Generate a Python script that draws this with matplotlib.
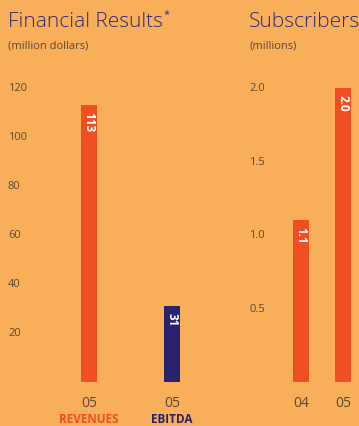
import matplotlib
matplotlib.use("Agg")
import matplotlib.pyplot as plt
from matplotlib import transforms

plt.rcParams['font.family'] = ['Open Sans', 'DejaVu Sans']

BG = "#F9AE59"
ORANGE = "#F04E23"
NAVY = "#27236F"
INK = "#5A4837"
TITLE = "#2E2A7A"

# financial results, million dollars
fin_labels = ["REVENUES", "EBITDA"]
fin_years = ["05", "05"]
fin_values = [113, 31]
fin_colors = [ORANGE, NAVY]
fin_ticks = [20, 40, 60, 80, 100, 120]

# subscribers, millions
sub_years = ["04", "05"]
sub_values = [1.1, 2.0]
sub_ticks = [0.5, 1.0, 1.5, 2.0]

W, H = 359, 427
fig = plt.figure(figsize=(W / 100, H / 100), dpi=100, facecolor=BG)


def px_axes(x0, x1, y_base, y_top):
    return fig.add_axes([x0 / W, (H - y_base) / H, (x1 - x0) / W, (y_base - y_top) / H])


def clean(ax):
    ax.set_facecolor("none")
    for s in ax.spines.values():
        s.set_visible(False)
    ax.set_xticks([])
    ax.set_yticks([])


# left panel
ax1 = px_axes(8, 235, 383, 383 - 130 * 2.45)
clean(ax1)
ax1.set_ylim(0, 130)
ax1.set_xlim(-(89 - 8) / 83, (235 - 89) / 83)
pos = list(range(len(fin_values)))
ax1.bar(pos, fin_values, width=16 / 83, color=fin_colors)
for p, v in zip(pos, fin_values):
    ax1.annotate(str(v), (p, v), xytext=(0, -4), textcoords="offset points",
                 rotation=-90, ha="center", va="top", color="white",
                 fontsize=8.5, fontweight="bold")
tr1 = transforms.blended_transform_factory(fig.transFigure, ax1.transData)
for t in fin_ticks:
    ax1.text(8 / W, t, str(t), transform=tr1, ha="left", va="center",
             fontsize=8, color=INK)
trx1 = transforms.blended_transform_factory(ax1.transData, fig.transFigure)
for p, yr, lab, c in zip(pos, fin_years, fin_labels, fin_colors):
    ax1.text(p, 1 - 404 / H, yr, transform=trx1, ha="center", va="center",
             fontsize=10, color=INK)
    ax1.text(p, 1 - 426 / H, lab, transform=trx1, ha="center", va="bottom",
             fontsize=8.5, fontweight="bold", color=c)

# right panel
ax2 = px_axes(249, 359, 383, 383 - 2.2 * 147)
clean(ax2)
ax2.set_ylim(0, 2.2)
ax2.set_xlim(-(301 - 249) / 42, (359 - 301) / 42)
pos2 = list(range(len(sub_values)))
ax2.bar(pos2, sub_values, width=16 / 42, color=ORANGE)
for p, v in zip(pos2, sub_values):
    ax2.annotate(f"{v:.1f}", (p, v), xytext=(0, -4), textcoords="offset points",
                 rotation=-90, ha="center", va="top", color="white",
                 fontsize=8.5, fontweight="bold")
tr2 = transforms.blended_transform_factory(fig.transFigure, ax2.transData)
for t in sub_ticks:
    ax2.text(249 / W, t, f"{t:.1f}", transform=tr2, ha="left", va="center",
             fontsize=8, color=INK)
trx2 = transforms.blended_transform_factory(ax2.transData, fig.transFigure)
for p, yr in zip(pos2, sub_years):
    ax2.text(p, 1 - 404 / H, yr, transform=trx2, ha="center", va="center",
             fontsize=10, color=INK)

# headings
t1 = fig.text(8 / W, 1 - 22 / H, "Financial Results", fontsize=15, color=TITLE,
              ha="left", va="center", fontweight="light")
fig.text(8 / W, 1 - 46 / H, "(million dollars)", fontsize=8, color=INK,
         ha="left", va="center")
fig.text(249 / W, 1 - 22 / H, "Subscribers", fontsize=15, color=TITLE,
         ha="left", va="center", fontweight="light")
fig.text(249 / W, 1 - 46 / H, "(millions)", fontsize=8, color=INK,
         ha="left", va="center")

# asterisk right after the title
fig.canvas.draw()
bb = t1.get_window_extent()
fig.text(bb.x1 / W + 1 / W, 1 - 15 / H, "*", fontsize=8, color=TITLE,
         ha="left", va="center")

fig.savefig("out.png", dpi=100, facecolor=BG)
